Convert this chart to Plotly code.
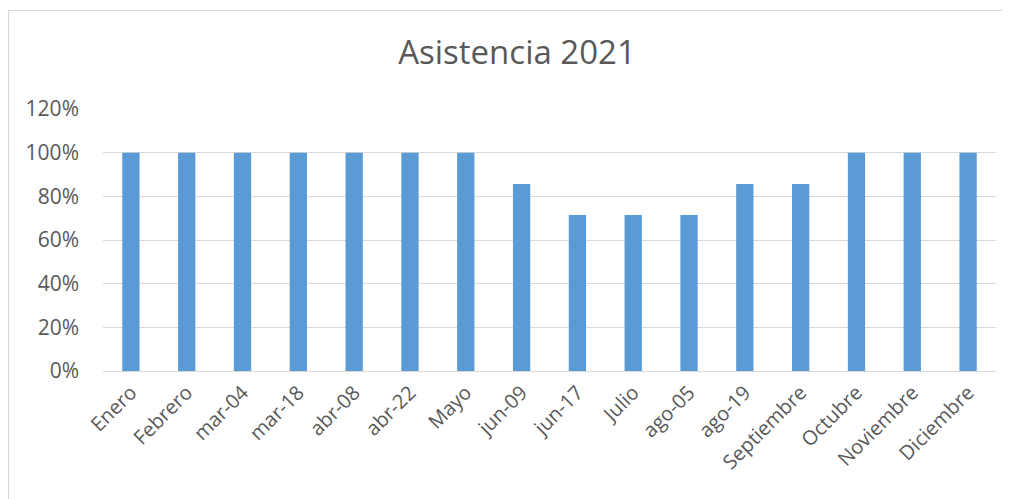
import plotly.graph_objects as go

categories = ["Enero", "Febrero", "mar-04", "mar-18", "abr-08", "abr-22", "Mayo",
              "jun-09", "jun-17", "Julio", "ago-05", "ago-19", "Septiembre",
              "Octubre", "Noviembre", "Diciembre"]
asistencia = [1.00, 1.00, 1.00, 1.00, 1.00, 1.00, 1.00,
              0.857, 0.714, 0.714, 0.714, 0.857, 0.857,
              1.00, 1.00, 1.00]
y_ticks = [0, 0.2, 0.4, 0.6, 0.8, 1.0, 1.2]
y_tick_labels = ["0%", "20%", "40%", "60%", "80%", "100%", "120%"]

# page body adds an 8px offset; the figure is sized to fill the rest of the window
OFF = 8
W, H = 1010 - OFF, 499 - OFF
ml, mr, mt, mb = 103 - OFF, 14, 109 - OFF, 128
pw, ph = W - ml - mr, H - mt - mb

fig = go.Figure(go.Bar(x=categories, y=asistencia, marker_color="#5B9BD5",
                       marker_line_width=0))

font_fam = "Open Sans, Liberation Sans, sans-serif"

def px_to_paper_x(px):
    return (px - OFF - ml) / pw

def px_to_paper_y(py):
    return (H - mb - (py - OFF)) / ph

fig.update_layout(
    width=W, height=H,
    margin=dict(l=ml, r=mr, t=mt, b=mb, autoexpand=False),
    paper_bgcolor="white", plot_bgcolor="white",
    bargap=0.69,
    showlegend=False,
    title=dict(text="Asistencia 2021", x=px_to_paper_x(517), xref="paper", xanchor="center",
               y=1 - (52 - OFF) / H, yanchor="middle",
               font=dict(family=font_fam, size=33, color="#595959")),
    font=dict(family=font_fam, color="#595959"),
    xaxis=dict(tickangle=-45, tickfont=dict(size=20, color="#595959"),
               showgrid=False, showline=False, ticks="", zeroline=False,
               ticklabelstandoff=5),
    yaxis=dict(range=[0, 1.2], tickvals=y_ticks, ticktext=y_tick_labels,
               tickfont=dict(size=21, color="#595959"),
               showgrid=True, gridcolor="#D9D9D9", gridwidth=1,
               zeroline=True, zerolinecolor="#D9D9D9", zerolinewidth=1,
               showline=False, ticks="", ticklabelstandoff=23),
    shapes=[dict(type="rect", xref="paper", yref="paper",
                 x0=px_to_paper_x(8.5), x1=px_to_paper_x(1020),
                 y0=px_to_paper_y(510), y1=px_to_paper_y(10.5),
                 line=dict(color="#D9D9D9", width=1.2), fillcolor="rgba(0,0,0,0)",
                 layer="below")],
)

fig.write_html("out.html")
